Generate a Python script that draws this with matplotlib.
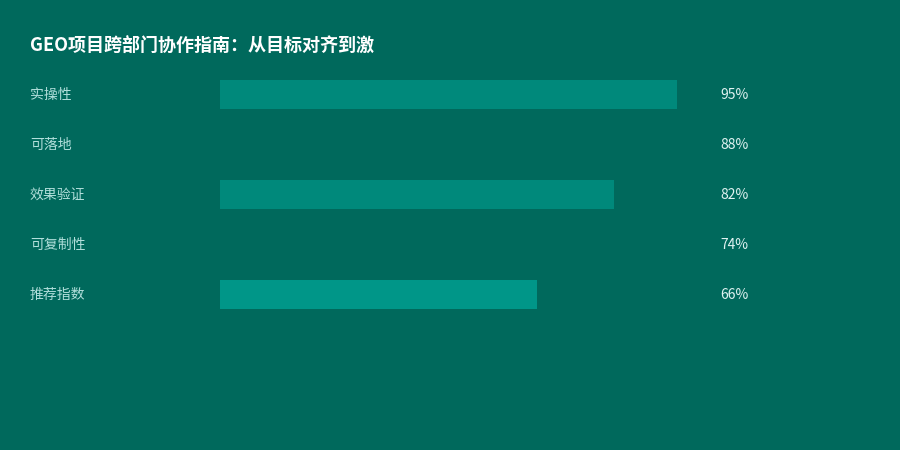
import matplotlib
matplotlib.use("Agg")
import matplotlib.pyplot as plt
from matplotlib.transforms import blended_transform_factory

plt.rcParams['font.family'] = ['Noto Sans CJK SC', 'DejaVu Sans']

title = 'GEO项目跨部门协作指南：从目标对齐到激'
labels = ['实操性', '可落地', '效果验证', '可复制性', '推荐指数']
values = [95, 88, 82, 74, 66]
bar_colors = ['#00897B', '#00695C', '#00897B', '#00695C', '#009688']

bg = '#00695C'

fig = plt.figure(figsize=(9, 4.5), dpi=100, facecolor=bg)
# track runs from x=220px to x=701px, rows 50px apart starting at y=69px
ax = fig.add_axes([220 / 900, 1 - 319 / 450, 481 / 900, 250 / 450])
ax.set_facecolor(bg)
ax.set_xlim(0, 100)
ax.set_ylim(len(labels) - 0.5, -0.5)
ax.axis('off')

rows = list(range(len(labels)))
ax.barh(rows, values, height=0.58, color=bar_colors, linewidth=0)

trans = blended_transform_factory(fig.transFigure, ax.transData)
for i, (lab, v) in enumerate(zip(labels, values)):
    ax.text(30 / 900, i + 0.02, lab, transform=trans, ha='left', va='center',
            fontsize=10, color='#B2DFDB')
    ax.text(720 / 900, i + 0.02, f'{v}%', transform=trans, ha='left', va='center',
            fontsize=10, color='#E0F2F1')

fig.text(30 / 900, 1 - 45 / 450, title, ha='left', va='center',
         fontsize=13, fontweight='bold', color='white')

fig.savefig('out.png', dpi=100, facecolor=bg)
